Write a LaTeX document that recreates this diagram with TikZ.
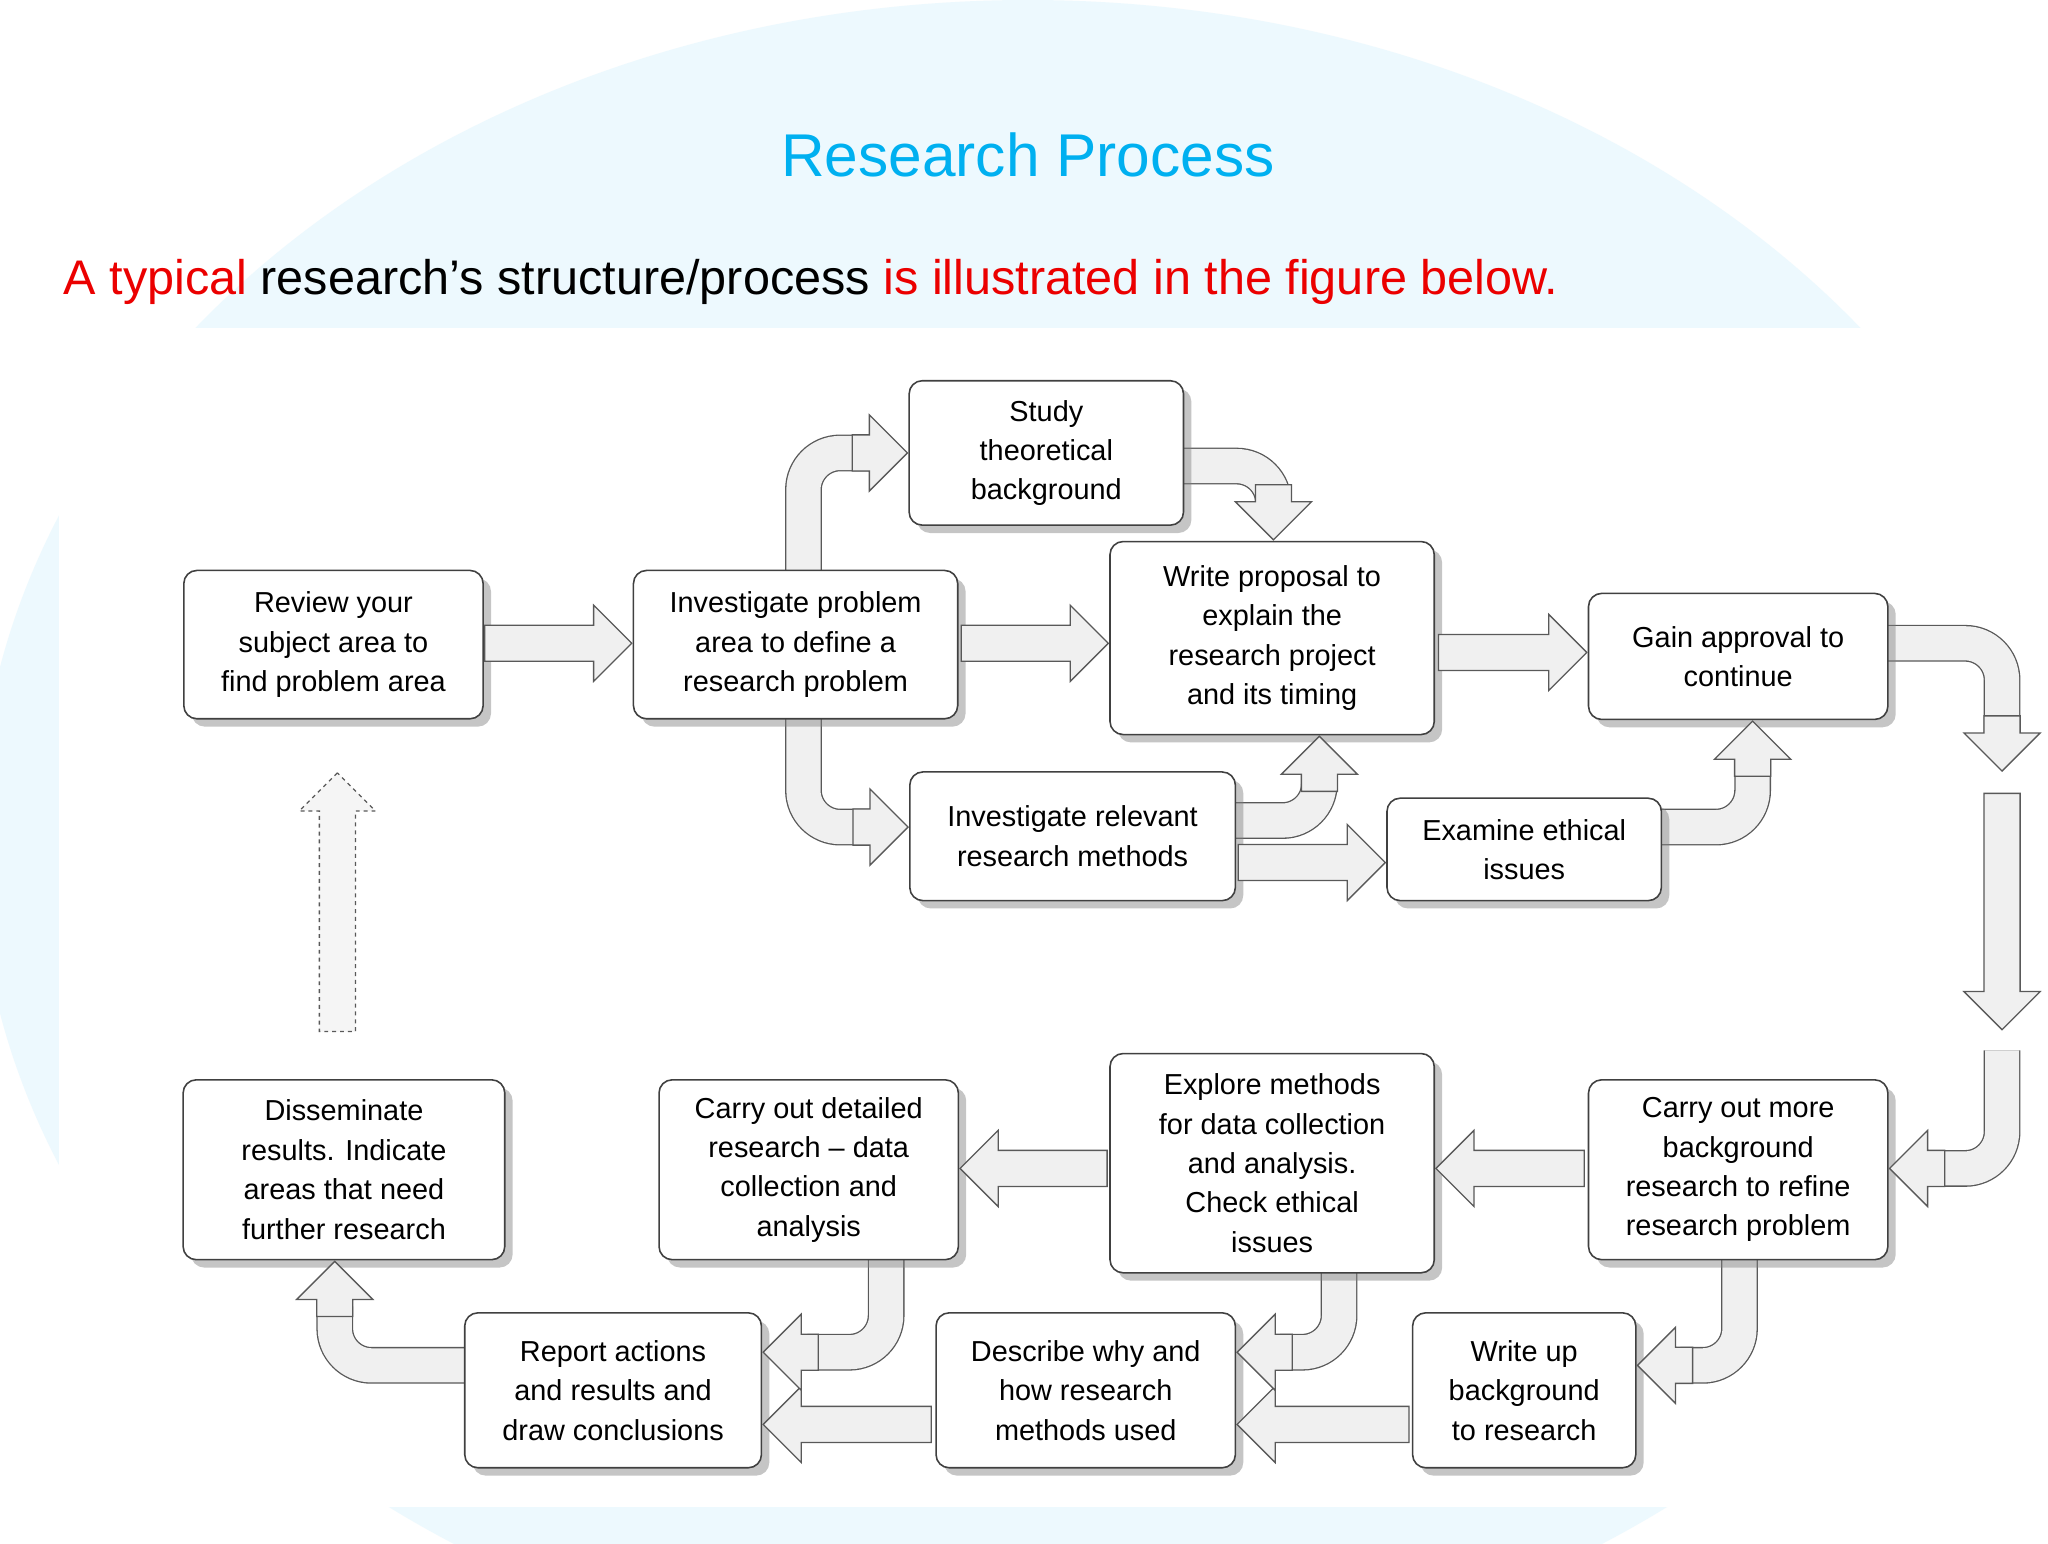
\documentclass[tikz,border=0pt]{standalone}
\usepackage{fontspec}
\setmainfont{Liberation Sans}
\usetikzlibrary{shapes.arrows,shadows}
\definecolor{ttl}{RGB}{0,176,240}
\definecolor{rd}{RGB}{235,0,0}
\begin{document}
\begin{tikzpicture}[x=1pt,y=-1pt,
 box/.style={draw=black!75,line width=1.2pt,fill=white,rounded corners=10pt,align=center,
  font=\fontsize{22}{30}\selectfont,inner sep=2pt,
  drop shadow={shadow xshift=6pt,shadow yshift=-6pt,opacity=0.45,fill=gray}},
 tip/.style={single arrow,draw=black!65,line width=1pt,fill=gray!12,inner sep=0pt,
  text height=13pt,text depth=13pt,text width=0pt,
  minimum width=58pt,single arrow head extend=15pt,anchor=tip},
 shaft/.style={draw=black!65,line width=1pt,double=gray!12,double distance=26pt,rounded corners=28pt}]
\useasboundingbox (0,0) rectangle (1560,1176);
\fill[white] (0,0) rectangle (1560,1176);
\fill[cyan!7] (783,640) ellipse (800 and 640);
\fill[white] (45,250) rectangle (1560,1148);
\node (title) at (783,118) {\fontsize{46}{50}\selectfont\color{ttl}Research Process};
\node[anchor=west] (sub) at (45,215) {\fontsize{37}{42}\selectfont\color{rd}A typical \color{black}research’s structure/process \color{rd}is illustrated in the figure below.};
% curved shafts
\draw[shaft] (1430,490) -| (1525,560);
\draw[shaft] (1525,800) |- (1470,890);
\draw[shaft] (1325,955) |- (1280,1040);
\draw[shaft] (1020,965) |- (975,1030);
\draw[shaft] (675,955) |- (615,1030);
\draw[shaft] (360,1040) -| (255,995);
\draw[shaft] (612,440) |- (665,345);
\draw[shaft] (612,545) |- (665,630);
\draw[shaft] (895,355) -| (970,385);
\draw[shaft] (935,625) -| (1005,590);
\draw[shaft] (1260,630) -| (1335,578);
% boxes
\node[box,minimum width=228pt,minimum height=113pt] (A) at (254,491) {Review your\\subject area to\\find problem area};
\node[box,minimum width=247pt,minimum height=113pt] (B) at (606,491) {Investigate problem\\area to define a\\research problem};
\node[box,minimum width=209pt,minimum height=110pt] (C) at (797,345) {Study\\theoretical\\background};
\node[box,minimum width=247pt,minimum height=147pt] (D) at (969,486) {Write proposal to\\explain the\\research project\\and its timing};
\node[box,minimum width=228pt,minimum height=96pt] (E) at (1324,500) {Gain approval to\\continue};
\node[box,minimum width=248pt,minimum height=98pt] (F) at (817,637) {Investigate relevant\\research methods};
\node[box,minimum width=209pt,minimum height=78pt] (G) at (1161,647) {Examine ethical\\issues};
\node[box,minimum width=245pt,minimum height=137pt] (H) at (262,891) {Disseminate\\results. Indicate\\areas that need\\further research};
\node[box,minimum width=228pt,minimum height=137pt] (I) at (616,891) {Carry out detailed\\research -- data\\collection and\\analysis};
\node[box,minimum width=247pt,minimum height=167pt] (J) at (969,886) {Explore methods\\for data collection\\and analysis.\\Check ethical\\issues};
\node[box,minimum width=228pt,minimum height=137pt] (K) at (1324,891) {Carry out more\\background\\research to refine\\research problem};
\node[box,minimum width=226pt,minimum height=118pt] (L) at (467,1059) {Report actions\\and results and\\draw conclusions};
\node[box,minimum width=228pt,minimum height=118pt] (M) at (827,1059) {Describe why and\\how research\\methods used};
\node[box,minimum width=170pt,minimum height=118pt] (N) at (1161,1059) {Write up\\background\\to research};
% straight arrows
\node[tip,minimum height=112pt] (a1) at (B.west |- 0,490) {};
\node[tip,minimum height=112pt] (a2) at (D.west |- 0,490) {};
\node[tip,minimum height=113pt] (a3) at (E.west |- 0,497) {};
\node[tip,minimum height=112pt] (a4) at (G.west |- 0,657) {};
\node[tip,minimum height=113pt,rotate=180] (a5) at (J.east |- 0,890) {};
\node[tip,minimum height=112pt,rotate=180] (a6) at (I.east |- 0,890) {};
\node[tip,minimum height=131pt,rotate=180] (a7) at (M.east |- 0,1085) {};
\node[tip,minimum height=128pt,rotate=180] (a8) at (L.east |- 0,1085) {};
\node[tip,minimum height=180pt,rotate=-90] (a9) at (1525,785) {};
\node[tip,minimum height=197pt,rotate=90,dashed,fill=gray!8] (a10) at (257,588) {};
% curved tips
\node[tip,minimum height=42pt,rotate=-90] at (1525,588) {};
\node[tip,minimum height=42pt,rotate=180] at (K.east |- 0,890) {};
\node[tip,minimum height=42pt,rotate=180] at (N.east |- 0,1040) {};
\node[tip,minimum height=42pt,rotate=180] at (M.east |- 0,1030) {};
\node[tip,minimum height=42pt,rotate=180] at (L.east |- 0,1030) {};
\node[tip,minimum height=42pt,rotate=90] at (H.south -| 255,0) {};
\node[tip,minimum height=42pt] at (C.west |- 0,345) {};
\node[tip,minimum height=42pt] at (F.west |- 0,630) {};
\node[tip,minimum height=42pt,rotate=-90] at (D.north -| 970,0) {};
\node[tip,minimum height=42pt,rotate=90] at (D.south -| 1005,0) {};
\node[tip,minimum height=42pt,rotate=90] at (E.south -| 1335,0) {};
\end{tikzpicture}
\end{document}
